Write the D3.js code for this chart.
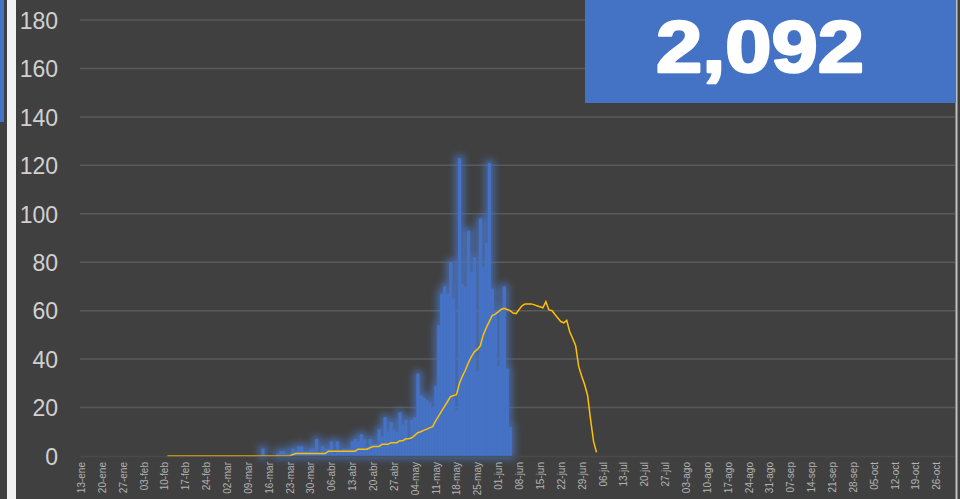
<!DOCTYPE html>
<html><head><meta charset="utf-8">
<script src="https://cdn.jsdelivr.net/npm/d3@7"></script>
<style>html,body{margin:0;padding:0;background:#404040;overflow:hidden}</style>
</head><body>
<svg id="c" width="960" height="499"></svg>
<script>
// ---- data ----
const barStart = "2020-03-14";
const barValues = [3,0,0,0,0,1,2,2,1,1,3,2,4,4,2,2,3,3,7,1,4,3,3,6,1,6,2,3,3,3,6,7,6,9,7,4,7,5,5,11,8,16,10,14,11,10,18,13,15,6,15,16,34,25,24,23,22,20,29,54,67,70,67,80,65,19,123,71,70,93,76,82,35,98,78,88,121,69,60,37,61,70,36,12];
const lineStart = "2020-02-11";
const lineValues = [0,0,0,0,0,0,0,0,0,0,0,0,0,0,0,0,0,0,0,0,0,0,0,0,0,0,0,0,0,0,0,0,0,0,0,0,0,0,0,0,0,0,
  0.5,1,1,1,1,1,1,1,1,1,1,1,2,2,2,2,2,2,2,2,2,2,2.8,2.8,2.8,2.8,
  3.4,3.9,3.9,3.9,4.8,4.8,4.8,5.5,5.5,5.5,6.3,6.3,7.1,7.1,7.5,8.5,9.6,10,10.6,11.1,11.6,12.1,14.5,16.5,18.5,20.5,22.5,24.5,25,25.3,30,33,35.5,38.5,41,43,44,45.5,50,53,55.5,58,58.6,59.5,60.5,61,60.5,60,59,58.8,60.5,62,62.8,62.8,62.8,62.5,62,61.6,61.2,63.7,60.3,60.1,58.5,57,55.5,55,56,51.3,48.5,45.5,37,33,29.5,25,15,6,1.5];
const xTickStart = "2020-01-13";
const xTickLabels = ["13-ene","20-ene","27-ene","03-feb","10-feb","17-feb","24-feb","02-mar","09-mar","16-mar","23-mar","30-mar","06-abr","13-abr","20-abr","27-abr","04-may","11-may","18-may","25-may","01-jun","08-jun","15-jun","22-jun","29-jun","06-jul","13-jul","20-jul","27-jul","03-ago","10-ago","17-ago","24-ago","31-ago","07-sep","14-sep","21-sep","28-sep","05-oct","12-oct","19-oct","26-oct"];
const yTicks = [0,20,40,60,80,100,120,140,160,180];
const totalLabel = "2,092";

// ---- scales ----
const parse = d3.utcParse("%Y-%m-%d");
const x0 = parse(xTickStart);
const xEnd = d3.utcDay.offset(x0, 7*(xTickLabels.length-1));
const x = d3.scaleUtc().domain([x0, xEnd]).range([81, 81 + 287*2.98]);
const dayW = x(d3.utcDay.offset(x0,1)) - x(x0);
const y = d3.scaleLinear().domain([0,180]).range([456,20]);

const svg = d3.select("#c");
svg.append("rect").attr("width",960).attr("height",499).attr("fill","#404040");

// left decorations
svg.append("rect").attr("x",0).attr("y",0).attr("width",4).attr("height",122).attr("fill","#4472c4");
svg.append("rect").attr("x",7).attr("y",0).attr("width",9).attr("height",499).attr("fill","#f2f2f2");

const defs = svg.append("defs");
const f = defs.append("filter").attr("id","glow").attr("x","-20%").attr("y","-20%").attr("width","140%").attr("height","140%");
f.append("feMorphology").attr("in","SourceAlpha").attr("operator","dilate").attr("radius",3).attr("result","dil");
f.append("feGaussianBlur").attr("in","dil").attr("stdDeviation",3.5).attr("result","blur");
f.append("feFlood").attr("flood-color","#4a78cc").attr("flood-opacity",0.7).attr("result","col");
f.append("feComposite").attr("in","col").attr("in2","blur").attr("operator","in").attr("result","glowc");
const fm = f.append("feMerge");
fm.append("feMergeNode").attr("in","glowc");
fm.append("feMergeNode").attr("in","SourceGraphic");

// gridlines
svg.append("g").selectAll("line").data(yTicks.filter(v=>v>0)).join("line")
  .attr("x1",80).attr("x2",955).attr("y1",d=>y(d)).attr("y2",d=>y(d))
  .attr("stroke","#5a5a5a").attr("stroke-width",1.5);

// y axis labels
const yAxis = d3.axisLeft(y).tickValues(yTicks).tickSize(0).tickPadding(0);
const gy = svg.append("g").attr("transform","translate(58,0)").call(yAxis);
gy.select(".domain").remove();
gy.selectAll("text").attr("fill","#d0d0d0").attr("font-family","'Liberation Sans', Arial, sans-serif").attr("font-size",23).attr("dy","0.36em");

// bars
const bs = parse(barStart);
const barData = barValues.map((v,i)=>({d:d3.utcDay.offset(bs,i), v}));
svg.append("g").attr("filter","url(#glow)").selectAll("rect").data(barData).join("rect")
  .attr("x",d=>x(d.d)-dayW/2).attr("width",dayW+0.3)
  .attr("y",d=>y(d.v)).attr("height",d=>y(0)-y(d.v))
  .attr("fill","#4472c4");

// line
const ls = parse(lineStart);
const lineData = lineValues.map((v,i)=>({d:d3.utcDay.offset(ls,i), v}));
svg.append("path").datum(lineData)
  .attr("d", d3.line().x(d=>x(d.d)).y(d=>y(d.v)))
  .attr("fill","none").attr("stroke","#ffc000").attr("stroke-width",1.5);

// baseline (drawn over the zero-level line, dimming it as in the reference)
svg.append("line").attr("x1",80).attr("x2",955).attr("y1",456.5).attr("y2",456.5).attr("stroke","#4d4d4d").attr("stroke-opacity",0.75).attr("stroke-width",1.5);

// x axis labels
const xTickDates = xTickLabels.map((l,i)=>d3.utcDay.offset(x0,7*i));
const xAxis = d3.axisBottom(x).tickValues(xTickDates).tickSize(0).tickFormat((d,i)=>xTickLabels[i]);
const gx = svg.append("g").attr("transform","translate(0,462)").call(xAxis);
gx.select(".domain").remove();
gx.selectAll("text").attr("transform","rotate(-90)").attr("text-anchor","end")
  .attr("x",0).attr("y",0).attr("dy","0.35em")
  .attr("fill","#b4b4b4").attr("font-family","'Liberation Sans', Arial, sans-serif").attr("font-size",10);

// right border + total box
svg.append("rect").attr("x",955.5).attr("y",0).attr("width",2).attr("height",499).attr("fill","#bfbfbf");
svg.append("rect").attr("x",585).attr("y",0).attr("width",371).attr("height",103).attr("fill","#4472c4");
svg.append("text").attr("x",760).attr("y",72).attr("text-anchor","middle")
  .attr("font-family","'Liberation Sans', Arial, sans-serif").attr("font-weight","bold").attr("font-size",72)
  .attr("fill","#fff").attr("stroke","#fff").attr("stroke-width",2.5).attr("stroke-linejoin","round")
  .attr("textLength",208).attr("lengthAdjust","spacingAndGlyphs")
  .text(totalLabel);
</script>
</body></html>
